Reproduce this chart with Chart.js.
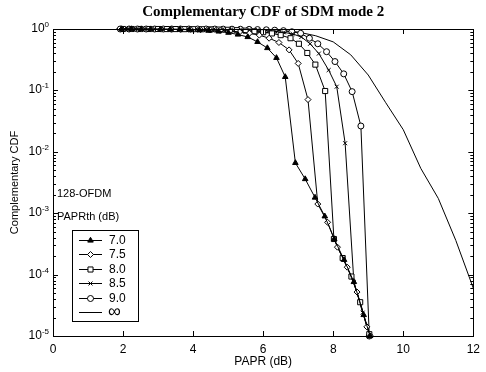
<!DOCTYPE html>
<html>
<head>
<meta charset="utf-8">
<script src="https://cdn.jsdelivr.net/npm/chart.js@4.4.1/dist/chart.umd.min.js"></script>
<style>
  html, body { margin: 0; padding: 0; background: #fff; }
</style>
</head>
<body>
<canvas id="ccdf" width="486" height="372"></canvas>
<script>
// values (PAPR in dB, CCDF as probability)
const papr70 = [1.96, 2.24, 2.52, 2.79, 3.07, 3.35, 3.62, 3.9, 4.18, 4.45, 4.73, 5.01, 5.28, 5.56, 5.84, 6.12, 6.38, 6.63, 6.92, 7.2, 7.48, 7.76, 8.03, 8.31, 8.59, 8.87, 9.05];
const ccdf70 = [1, 1, 0.998, 0.995, 0.993, 0.989, 0.982, 0.973, 0.959, 0.94, 0.912, 0.871, 0.813, 0.741, 0.617, 0.49, 0.339, 0.166, 0.0066, 0.0036, 0.0018, 8.9e-4, 3.8e-4, 1.74e-4, 7.6e-5, 2.2e-5, 1.0e-5];

const papr75 = [1.97, 2.25, 2.53, 2.81, 3.09, 3.37, 3.65, 3.93, 4.21, 4.49, 4.77, 5.05, 5.33, 5.61, 5.89, 6.17, 6.45, 6.74, 7.0, 7.28, 7.56, 7.84, 8.12, 8.4, 8.68, 8.96, 9.06];
const ccdf75 = [1, 1, 0.998, 0.998, 0.995, 0.993, 0.989, 0.984, 0.977, 0.966, 0.95, 0.929, 0.897, 0.855, 0.794, 0.708, 0.603, 0.457, 0.275, 0.0708, 0.00141, 7.1e-4, 2.8e-4, 1.32e-4, 5.2e-5, 1.41e-5, 1.0e-5];

const papr80 = [2.0, 2.25, 2.5, 2.75, 3.0, 3.25, 3.5, 3.75, 4.0, 4.25, 4.5, 4.75, 5.0, 5.25, 5.5, 5.75, 6.0, 6.25, 6.5, 6.78, 7.02, 7.26, 7.49, 7.77, 8.02, 8.27, 8.52, 8.77, 9.03];
const ccdf80 = [1, 1, 1, 1, 1, 0.998, 0.998, 0.995, 0.993, 0.991, 0.986, 0.979, 0.971, 0.957, 0.94, 0.916, 0.887, 0.847, 0.794, 0.708, 0.575, 0.407, 0.263, 0.0977, 3.8e-4, 1.86e-4, 9.3e-5, 3.55e-5, 1.07e-5];

const papr85 = [2.09, 2.34, 2.59, 2.84, 3.09, 3.34, 3.59, 3.84, 4.09, 4.34, 4.59, 4.84, 5.09, 5.34, 5.59, 5.84, 6.09, 6.34, 6.59, 6.84, 7.09, 7.34, 7.59, 7.87, 8.1, 8.34, 8.59, 8.84, 9.06];
const ccdf85 = [1, 1, 1, 1, 1, 1, 1, 0.998, 0.998, 0.995, 0.993, 0.991, 0.986, 0.979, 0.971, 0.959, 0.942, 0.916, 0.881, 0.832, 0.741, 0.575, 0.398, 0.214, 0.115, 0.0138, 7.6e-5, 2.4e-5, 1.0e-5];

const papr90 = [1.92, 2.17, 2.41, 2.66, 2.9, 3.15, 3.39, 3.64, 3.88, 4.13, 4.37, 4.62, 4.86, 5.11, 5.35, 5.6, 5.84, 6.09, 6.33, 6.58, 6.82, 7.07, 7.32, 7.56, 7.81, 8.05, 8.3, 8.54, 8.79, 9.03];
const ccdf90 = [1, 1, 1, 1, 1, 1, 1, 1, 1, 1, 1, 0.998, 0.995, 0.993, 0.991, 0.986, 0.979, 0.971, 0.957, 0.94, 0.902, 0.851, 0.708, 0.575, 0.427, 0.295, 0.186, 0.0955, 0.0263, 1.0e-5];

const paprInf = [1.8, 2.5, 3, 3.5, 4, 4.5, 5, 5.5, 6, 6.5, 7, 7.5, 8, 8.5, 9, 9.5, 10, 10.5, 11, 11.5, 12];
const ccdfInf = [1, 1, 1, 1, 0.998, 0.995, 0.991, 0.982, 0.966, 0.938, 0.891, 0.776, 0.617, 0.38, 0.178, 0.063, 0.0229, 0.00537, 0.00174, 3.6e-4, 6.0e-5];

const seriesLabels = ['7.0', '7.5', '8.0', '8.5', '9.0', '\u221E'];
const xTicks = [0, 2, 4, 6, 8, 10, 12];
const yDecades = [0, -1, -2, -3, -4, -5];

const pts = (xs, ys) => xs.map((v, i) => ({ x: v, y: ys[i] }));

function series(label, xs, ys, style, radius, fill) {
  return {
    label: label,
    data: pts(xs, ys),
    borderColor: '#000',
    borderWidth: 1,
    pointStyle: style,
    pointRadius: radius,
    pointBorderWidth: 1,
    pointBorderColor: '#000',
    pointBackgroundColor: fill,
    tension: 0,
    clip: false
  };
}

const datasets = [
  series(seriesLabels[0], papr70, ccdf70, 'triangle', 3.2, '#000'),
  series(seriesLabels[1], papr75, ccdf75, 'rectRot', 3, '#fff'),
  series(seriesLabels[2], papr80, ccdf80, 'rect', 3.6, '#fff'),
  series(seriesLabels[3], papr85, ccdf85, 'crossRot', 2.8, '#fff'),
  series(seriesLabels[4], papr90, ccdf90, 'circle', 3, '#fff'),
  series(seriesLabels[5], paprInf, ccdfInf, false, 0, '#fff')
];

const SANS = '"Liberation Sans", Arial, sans-serif';

const matlabLook = {
  id: 'matlabLook',
  afterDraw(chart) {
    const ctx = chart.ctx;
    const a = chart.chartArea;
    const x = chart.scales.x, y = chart.scales.y;
    const line = (x1, y1, x2, y2) => { ctx.beginPath(); ctx.moveTo(x1, y1); ctx.lineTo(x2, y2); ctx.stroke(); };
    ctx.save();
    ctx.strokeStyle = '#000';
    ctx.fillStyle = '#000';
    ctx.lineWidth = 1;

    // axes box
    ctx.strokeRect(Math.round(a.left) + 0.5, Math.round(a.top) + 0.5, Math.round(a.width), Math.round(a.height));

    // inward tick marks
    xTicks.forEach(v => {
      const px = Math.round(x.getPixelForValue(v)) + 0.5;
      line(px, a.bottom, px, a.bottom - 5);
      line(px, a.top, px, a.top + 5);
    });
    yDecades.forEach(e => {
      for (let m = 1; m <= 9; m++) {
        const v = m * Math.pow(10, e);
        if (v > 1.0001 || v < 1e-5 * 0.999) continue;
        const py = Math.round(y.getPixelForValue(v)) + 0.5;
        const len = m === 1 ? 5 : 3;
        line(a.left, py, a.left + len, py);
        line(a.right, py, a.right - len, py);
      }
    });

    // y tick labels, 10 with raised exponent
    ctx.textBaseline = 'alphabetic';
    yDecades.forEach(e => {
      const py = y.getPixelForValue(Math.pow(10, e));
      const exp = e === 0 ? '0' : '-' + (-e);
      ctx.font = '8px ' + SANS;
      const ew = ctx.measureText(exp).width;
      const xr = a.left - 4;
      ctx.textAlign = 'left';
      ctx.fillText(exp, xr - ew, py - 2);
      ctx.font = '12px ' + SANS;
      ctx.textAlign = 'right';
      ctx.fillText('10', xr - ew, py + 3);
    });

    // title and axis titles
    ctx.textAlign = 'center';
    ctx.textBaseline = 'middle';
    ctx.font = 'bold 15px "Liberation Serif", "Times New Roman", serif';
    ctx.fillText('Complementary CDF of SDM mode 2', (a.left + a.right) / 2, 12);
    ctx.font = '12px ' + SANS;
    ctx.fillText('PAPR (dB)', (a.left + a.right) / 2, 362);
    ctx.save();
    ctx.translate(15, (a.top + a.bottom) / 2);
    ctx.rotate(-Math.PI / 2);
    ctx.font = '11px ' + SANS;
    ctx.fillText('Complementary CDF', 0, 0);
    ctx.restore();

    // annotation and legend
    ctx.textAlign = 'left';
    ctx.font = '11px ' + SANS;
    ctx.fillText('128-OFDM', 57, 194);
    ctx.fillText('PAPRth (dB)', 57, 217);

    const bx = 72, bw = 66, by = 230, rowH = 14.5;
    const ds = chart.data.datasets;
    ctx.fillStyle = '#fff';
    ctx.fillRect(bx, by, bw, rowH * ds.length + 4);
    ctx.strokeRect(bx + 0.5, by + 0.5, bw, rowH * ds.length + 4);
    ds.forEach((d, i) => {
      const ly = Math.round(by + 9.5 + i * rowH) + 0.5;
      ctx.strokeStyle = '#000';
      line(79, ly, 102, ly);
      if (d.pointStyle) {
        ctx.fillStyle = d.pointBackgroundColor;
        ctx.strokeStyle = '#000';
        Chart.helpers.drawPoint(ctx, { pointStyle: d.pointStyle, radius: d.pointRadius, borderWidth: 1, rotation: 0 }, 90.5, ly);
      }
      ctx.fillStyle = '#000';
      ctx.textBaseline = 'middle';
      if (d.label === '\u221E') {
        ctx.font = '18px ' + SANS;
        ctx.fillText(d.label, 108, ly);
      } else {
        ctx.font = '12px ' + SANS;
        ctx.fillText(d.label, 109, ly + 0.5);
      }
    });
    ctx.restore();
  }
};

new Chart(document.getElementById('ccdf'), {
  type: 'line',
  data: { datasets: datasets },
  options: {
    responsive: false,
    animation: false,
    layout: { padding: { top: 29, right: 8, left: 0, bottom: 0 } },
    plugins: {
      legend: { display: false },
      tooltip: { enabled: false },
      title: { display: false }
    },
    scales: {
      x: {
        type: 'linear',
        min: 0,
        max: 12,
        grid: { display: false, drawTicks: false },
        border: { display: false },
        afterBuildTicks: s => { s.ticks = xTicks.map(v => ({ value: v })); },
        afterFit: s => { s.height = 36; },
        ticks: { color: '#000', padding: 6, font: { family: SANS, size: 12 } }
      },
      y: {
        type: 'logarithmic',
        min: 1e-5,
        max: 1,
        grid: { display: false, drawTicks: false },
        border: { display: false },
        afterFit: s => { s.width = 53; },
        ticks: { display: false }
      }
    }
  },
  plugins: [matlabLook]
});
</script>
</body>
</html>
